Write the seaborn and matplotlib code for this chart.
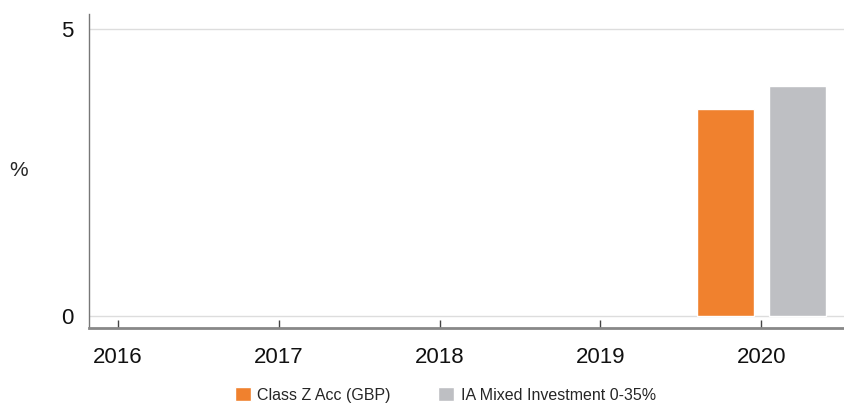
import numpy as np
import pandas as pd
import seaborn as sns
import matplotlib.pyplot as plt

years = ["2016", "2017", "2018", "2019", "2020"]
fund_name = "Class Z Acc (GBP)"
sector_name = "IA Mixed Investment 0-35%"
fund_values = [np.nan, np.nan, np.nan, np.nan, 3.61]
sector_values = [np.nan, np.nan, np.nan, np.nan, 4.01]

data = pd.DataFrame({
    "year": years * 2,
    "series": [fund_name] * len(years) + [sector_name] * len(years),
    "value": fund_values + sector_values,
})

sns.set_style("white")
plt.rcParams["font.family"] = ["Liberation Sans", "DejaVu Sans"]

fig = plt.figure(figsize=(8.45, 4.03), dpi=100)
ax = fig.add_axes([0.105, 0.186, 0.895, 0.779])

sns.barplot(data=data, x="year", y="value", hue="series", order=years,
            hue_order=[fund_name, sector_name],
            palette=["#F0812E", "#BEBFC3"], width=0.9, gap=0.21,
            saturation=1, ax=ax, legend=True)

ax.set_ylim(-0.21, 5.26)
ax.set_xlim(-0.18, 4.52)
ax.set_yticks([0, 5])
ax.axhline(0, color="#dddddd", lw=1, zorder=0)
ax.axhline(5, color="#dddddd", lw=1, zorder=0)

ax.set_xlabel("")
ax.set_ylabel("")
fig.text(19 / 845, 1 - 171 / 403, "%", fontsize=15, ha="center", va="center")
ax.tick_params(axis="x", direction="in", length=6, width=1, color="#444444",
               labelsize=16, pad=14, bottom=True, labelcolor="#111111")
ax.tick_params(axis="y", length=0, labelsize=16, pad=11, labelcolor="#111111")

for side in ["top", "right"]:
    ax.spines[side].set_visible(False)
ax.spines["left"].set_color("#777777")
ax.spines["left"].set_linewidth(1)
ax.spines["bottom"].set_color("#888888")
ax.spines["bottom"].set_linewidth(2)

handles, labels = ax.get_legend_handles_labels()
ax.get_legend().remove()
fig.legend(handles, labels, loc="center", bbox_to_anchor=(0.527, 0.02),
           ncol=2, frameon=False, fontsize=11.5, handlelength=1.0,
           handleheight=1.0, handletextpad=0.4, columnspacing=3.0)

fig.savefig("out.png", dpi=100)
